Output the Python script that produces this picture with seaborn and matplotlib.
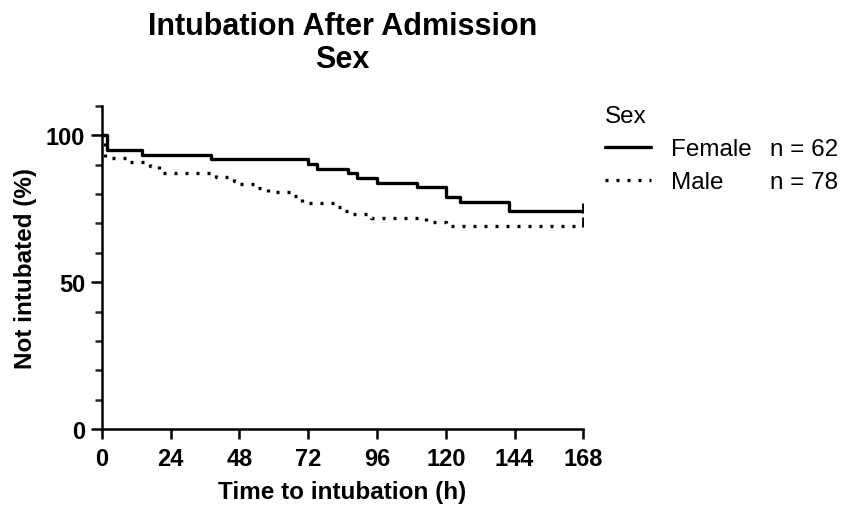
import numpy as np
import pandas as pd
import seaborn as sns
from matplotlib import pyplot as plt

# ---- data ----
female_time = [0, 2, 14, 38, 72, 75, 86, 89, 96, 110, 120, 125, 142, 168]
female_pct = [100, 95.2, 93.5, 91.9, 90.3, 88.7, 87.1, 85.5, 83.9, 82.3, 79.0, 77.4, 74.2, 74.2]
male_time = [0, 1, 10, 17, 20, 40, 46, 48, 53, 58, 67, 70, 81, 85, 87, 94, 113, 120, 168]
male_pct = [100, 92.3, 91.0, 89.7, 87.2, 85.9, 84.6, 83.3, 82.1, 80.8, 79.5, 76.9, 75.6, 74.4,
            73.1, 71.8, 70.5, 69.2, 69.2]
groups = ["Female", "Male"]
group_n = [62, 78]
x_ticks = [0, 24, 48, 72, 96, 120, 144, 168]

sns.set_theme(style="ticks")
plt.rcParams['font.family'] = ['Liberation Sans', 'DejaVu Sans']
plt.rc('text', color='black')
plt.rc('axes', linewidth=1.8, labelcolor='black', edgecolor='black')
plt.rc('xtick.major', width=1.8, size=7, pad=6)
plt.rc('ytick.major', width=1.8, size=8, pad=4)
plt.rc('ytick.minor', width=1.8, size=5)

df = pd.concat([
    pd.DataFrame({"time": female_time, "pct": female_pct, "sex": "Female"}),
    pd.DataFrame({"time": male_time, "pct": male_pct, "sex": "Male"}),
])

fig = plt.figure(figsize=(8.48, 5.10), dpi=100)
ax = fig.add_axes([0.120, 0.157, 0.568, 0.633])

sns.lineplot(data=df, x="time", y="pct", hue="sex", style="sex", estimator=None,
             palette={"Female": "black", "Male": "black"},
             dashes={"Female": "", "Male": (0.9, 2.4)},
             drawstyle="steps-post", linewidth=2.4, ax=ax)

# censor ticks at the end of follow-up
ends = df.groupby("sex").last().reset_index()
ax.scatter(ends["time"], ends["pct"] + 1.2, marker="|", s=60, color="black", linewidths=2)

ax.set_xlim(0, 168)
ax.set_ylim(0, 110)
ax.set_xticks(x_ticks)
ax.set_yticks([0, 50, 100])
ax.set_yticks(np.arange(0, 111, 10), minor=True)
ax.tick_params(axis='both', labelsize=17, colors='black')
for lab in ax.get_xticklabels() + ax.get_yticklabels():
    lab.set_fontweight('bold')
ax.spines['left'].set_bounds(0, 110)
sns.despine(ax=ax)
ax.set_xlabel("Time to intubation (h)", fontsize=17.5, fontweight='bold', labelpad=7)
ax.set_ylabel("Not intubated (%)", fontsize=17.5, fontweight='bold', labelpad=6)
ax.set_title("Intubation After Admission\nSex", fontsize=22, fontweight='bold', pad=28,
             linespacing=1.15, color='black')

leg = ax.legend(title="Sex", loc="upper left", bbox_to_anchor=(1.0, 1.07), frameon=False,
                fontsize=17.5, title_fontsize=17.5, handlelength=1.9, handletextpad=0.8,
                labelspacing=0.45, alignment='left')
for h in leg.get_lines():
    h.set_color("black")
    h.set_linewidth(2.4)

fig.canvas.draw()
inv = fig.transFigure.inverted()
for txt, n in zip(leg.get_texts(), group_n):
    bb = txt.get_window_extent()
    x0, y0 = inv.transform((bb.x0, (bb.y0 + bb.y1) / 2))
    fig.text(0.908, y0, f"n = {n}", fontsize=17.5, va='center', ha='left')

fig.savefig("out.png", dpi=100)
